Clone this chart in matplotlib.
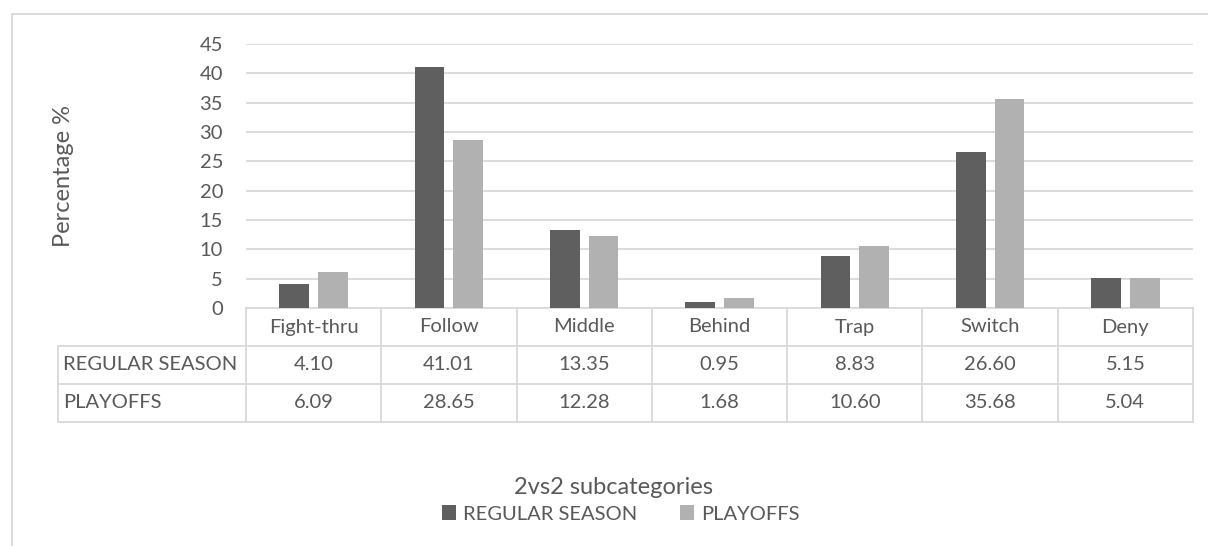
import numpy as np
import matplotlib.pyplot as plt
from matplotlib.transforms import blended_transform_factory
from matplotlib.patches import Rectangle
from matplotlib.lines import Line2D

plt.rcParams['font.family'] = ['Lato', 'DejaVu Sans']

# data
categories = ['Fight-thru', 'Follow', 'Middle', 'Behind', 'Trap', 'Switch', 'Deny']
series_names = ['REGULAR SEASON', 'PLAYOFFS']
regular = [4.10, 41.01, 13.35, 0.95, 8.83, 26.60, 5.15]
playoffs = [6.09, 28.65, 12.28, 1.68, 10.60, 35.68, 5.04]
yticks = [0, 5, 10, 15, 20, 25, 30, 35, 40, 45]

dark = '#5f5f5f'
light = '#b1b1b1'
txt = '#595959'
grid = '#d9d9d9'
fs = 14.5
fs_title = 17

W, H = 1208, 546
fig = plt.figure(figsize=(W / 100, H / 100), dpi=100)

def fy(py):
    # pixel row from top -> figure fraction
    return 1 - py / H

# outer chart border
fig.add_artist(Rectangle((12 / W, fy(560)), 1.2, (560 - 14) / H,
                         transform=fig.transFigure, fill=False,
                         edgecolor=grid, lw=1.3))

left, right, top, bottom = 246, 1193, 44, 308
ax = fig.add_axes([left / W, fy(bottom), (right - left) / W, (bottom - top) / H])

x = np.arange(len(categories))
w = 0.22
off = 0.143
b1 = ax.bar(x - off, regular, w, color=dark, label=series_names[0], zorder=3)
b2 = ax.bar(x + off, playoffs, w, color=light, label=series_names[1], zorder=3)

ax.set_xlim(-0.5, len(categories) - 0.5)
ax.set_ylim(0, 45)
ax.set_yticks(yticks)
ax.set_yticklabels([str(t) for t in yticks], fontsize=fs, color=txt)
ax.set_xticks([])
ax.tick_params(axis='y', length=0, pad=16.5)
ax.grid(axis='y', color=grid, lw=1.3, zorder=0)
for s in ['top', 'right', 'left']:
    ax.spines[s].set_visible(False)
ax.spines['bottom'].set_color(grid)
ax.spines['bottom'].set_linewidth(1.3)

fig.text(63 / W, fy(176), 'Percentage %', rotation=90, ha='center', va='center',
         fontsize=fs_title, color=txt)

# data table under the axis
tr = blended_transform_factory(ax.transData, fig.transFigure)
rows = [346, 384, 422]
edges = np.arange(len(categories) + 1) - 0.5
for py in rows:
    fig.add_artist(Line2D([58 / W, right / W], [fy(py), fy(py)],
                          transform=fig.transFigure, color=grid, lw=1.3))
for e in edges:
    ax.add_line(Line2D([e, e], [fy(bottom), fy(rows[-1])], transform=tr,
                       color=grid, lw=1.3, clip_on=False))
fig.add_artist(Line2D([58 / W, 58 / W], [fy(rows[0]), fy(rows[-1])],
                      transform=fig.transFigure, color=grid, lw=1.3))

for i, c in enumerate(categories):
    ax.text(i, fy((bottom + rows[0]) / 2), c, transform=tr, ha='center',
            va='center', fontsize=fs, color=txt)
for r, (name, vals) in enumerate(zip(series_names, [regular, playoffs])):
    ymid = fy((rows[r] + rows[r + 1]) / 2)
    fig.text(63 / W, ymid, name, ha='left', va='center', fontsize=fs, color=txt)
    for i, v in enumerate(vals):
        ax.text(i, ymid, f'{v:.2f}', transform=tr, ha='center', va='center',
                fontsize=fs, color=txt)

fig.text(614 / W, fy(487), '2vs2 subcategories', ha='center', va='center',
         fontsize=fs_title, color=txt)
fig.legend(handles=[b1, b2], loc='center', bbox_to_anchor=(621 / W, fy(514)),
           ncol=2, frameon=False, fontsize=fs, labelcolor=txt,
           handlelength=0.7, handleheight=0.7, handletextpad=0.35,
           columnspacing=2.1)

fig.savefig('out.png', dpi=100)
